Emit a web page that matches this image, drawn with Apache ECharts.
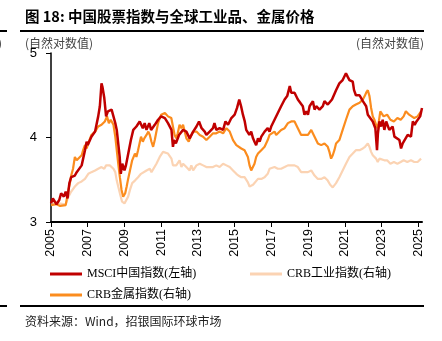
<!DOCTYPE html>
<html>
<head>
<meta charset="utf-8">
<script src="https://cdn.jsdelivr.net/npm/echarts@6/dist/echarts.min.js"></script>
<style>
html,body{margin:0;padding:0;background:#fff;}
#chart{width:442px;height:341px;}
</style>
</head>
<body>
<div id="chart"></div>
<script>
// ---- Data (natural log values) ----
const msciYears = [2005.0,2005.1,2005.3,2005.45,2005.55,2005.7,2005.8,2005.9,2006.0,2006.1,2006.3,2006.4,2006.5,2006.67,2006.85,2006.94,2007.0,2007.2,2007.4,2007.57,2007.66,2007.75,2007.8,2007.9,2007.95,2008.0,2008.1,2008.2,2008.3,2008.4,2008.5,2008.58,2008.66,2008.74,2008.8,2008.88,2009.0,2009.08,2009.17,2009.35,2009.48,2009.55,2009.65,2009.83,2010.0,2010.1,2010.2,2010.35,2010.45,2010.65,2010.83,2011.0,2011.2,2011.37,2011.56,2011.64,2011.7,2011.8,2011.97,2012.07,2012.19,2012.37,2012.55,2012.74,2012.92,2013.06,2013.2,2013.37,2013.46,2013.64,2013.82,2013.9,2014.0,2014.18,2014.37,2014.5,2014.64,2014.82,2015.0,2015.13,2015.25,2015.35,2015.45,2015.55,2015.63,2015.72,2015.8,2015.9,2016.0,2016.08,2016.17,2016.27,2016.36,2016.45,2016.63,2016.8,2016.9,2016.99,2017.17,2017.35,2017.53,2017.72,2017.86,2018.0,2018.08,2018.26,2018.44,2018.53,2018.71,2018.8,2018.9,2018.99,2019.08,2019.26,2019.35,2019.44,2019.62,2019.8,2019.89,2020.07,2020.16,2020.3,2020.52,2020.7,2020.88,2021.06,2021.15,2021.25,2021.35,2021.43,2021.5,2021.6,2021.8,2021.98,2022.16,2022.25,2022.35,2022.52,2022.66,2022.75,2022.8,2022.88,2022.97,2023.06,2023.15,2023.25,2023.42,2023.6,2023.7,2023.8,2023.97,2024.06,2024.15,2024.25,2024.42,2024.6,2024.7,2024.8,2024.9,2025.0,2025.1,2025.2];
const msciValues = [3.22,3.28,3.21,3.26,3.34,3.30,3.36,3.28,3.46,3.53,3.55,3.59,3.57,3.67,3.85,3.95,3.91,4.01,4.07,4.25,4.37,4.64,4.60,4.47,4.45,4.25,4.31,4.29,4.33,4.25,4.17,4.09,3.93,3.77,3.57,3.69,3.61,3.67,3.77,3.97,4.09,4.07,4.13,4.19,4.11,4.17,4.09,4.17,4.09,4.15,4.21,4.25,4.23,4.17,4.09,3.89,3.97,3.93,4.03,4.01,4.09,4.07,3.99,4.07,4.13,4.19,4.11,4.07,4.03,4.07,4.11,4.17,4.09,4.11,4.09,4.19,4.15,4.23,4.27,4.35,4.45,4.37,4.27,4.19,4.09,4.11,4.03,4.07,3.99,3.95,3.91,3.99,3.95,4.01,4.07,4.11,4.07,4.13,4.21,4.29,4.37,4.45,4.49,4.61,4.53,4.53,4.45,4.43,4.37,4.27,4.31,4.27,4.37,4.43,4.33,4.37,4.33,4.37,4.43,4.39,4.40,4.45,4.56,4.64,4.68,4.76,4.72,4.68,4.70,4.66,4.56,4.50,4.50,4.43,4.37,4.27,4.25,4.19,4.11,3.85,4.05,4.19,4.13,4.21,4.09,4.19,4.09,4.13,4.01,4.03,3.97,3.87,3.93,3.95,4.03,4.01,4.19,4.15,4.19,4.19,4.25,4.35];

const metalYears = [2005.0,2005.3,2005.5,2005.8,2005.9,2005.95,2006.03,2006.1,2006.2,2006.3,2006.4,2006.5,2006.67,2006.75,2006.85,2006.94,2007.03,2007.2,2007.4,2007.57,2007.75,2007.93,2008.05,2008.15,2008.25,2008.4,2008.5,2008.58,2008.66,2008.75,2008.84,2008.93,2009.04,2009.12,2009.2,2009.3,2009.42,2009.57,2009.65,2009.74,2009.9,2010.0,2010.08,2010.2,2010.3,2010.38,2010.47,2010.56,2010.65,2010.74,2010.83,2010.92,2011.0,2011.2,2011.37,2011.45,2011.55,2011.64,2011.73,2011.82,2011.9,2012.0,2012.1,2012.19,2012.28,2012.37,2012.5,2012.6,2012.74,2012.92,2013.1,2013.28,2013.46,2013.64,2013.82,2014.0,2014.18,2014.37,2014.55,2014.73,2014.91,2015.09,2015.18,2015.36,2015.54,2015.72,2015.81,2015.9,2016.0,2016.08,2016.17,2016.27,2016.45,2016.63,2016.8,2016.9,2016.99,2017.17,2017.26,2017.35,2017.53,2017.72,2017.9,2018.08,2018.26,2018.44,2018.62,2018.8,2018.99,2019.17,2019.35,2019.53,2019.71,2019.89,2020.07,2020.16,2020.25,2020.34,2020.43,2020.52,2020.7,2020.88,2021.06,2021.25,2021.43,2021.6,2021.8,2021.98,2022.08,2022.16,2022.25,2022.34,2022.43,2022.52,2022.61,2022.7,2022.79,2022.85,2022.93,2023.02,2023.11,2023.2,2023.3,2023.48,2023.67,2023.86,2024.04,2024.2,2024.32,2024.5,2024.6,2024.78,2024.96,2025.15];
const metalValues = [3.20,3.21,3.19,3.20,3.21,3.38,3.46,3.55,3.63,3.77,3.73,3.75,3.79,3.85,3.91,3.87,3.93,4.03,4.07,4.13,4.15,4.19,4.25,4.17,4.21,4.15,4.01,3.85,3.69,3.53,3.38,3.30,3.34,3.42,3.51,3.61,3.73,3.81,3.77,3.85,4.01,3.95,3.99,4.03,4.07,4.03,3.95,3.89,3.97,4.07,4.17,4.23,4.27,4.29,4.25,4.27,4.23,4.13,4.03,3.99,4.05,4.15,4.11,4.15,4.07,3.99,3.95,4.01,4.07,4.07,4.03,4.01,3.97,4.01,4.05,4.05,4.07,4.05,4.11,4.07,3.97,3.91,3.93,3.87,3.85,3.77,3.67,3.61,3.63,3.69,3.77,3.81,3.85,3.89,3.97,4.03,4.05,4.07,4.03,4.05,4.09,4.11,4.17,4.19,4.19,4.11,4.03,4.03,4.03,4.09,4.01,3.93,3.91,3.93,3.89,3.83,3.75,3.79,3.85,3.93,3.97,4.09,4.21,4.33,4.37,4.39,4.41,4.45,4.49,4.53,4.56,4.49,4.35,4.25,4.21,4.15,4.11,4.19,4.31,4.29,4.25,4.23,4.27,4.21,4.19,4.23,4.21,4.25,4.31,4.27,4.29,4.23,4.25,4.31];

const indYears = [2005.0,2005.4,2005.8,2005.95,2006.1,2006.3,2006.48,2006.67,2006.85,2007.03,2007.2,2007.4,2007.57,2007.75,2007.9,2008.0,2008.1,2008.2,2008.3,2008.4,2008.5,2008.58,2008.66,2008.75,2008.87,2009.0,2009.1,2009.2,2009.3,2009.42,2009.57,2009.74,2009.9,2010.0,2010.2,2010.38,2010.47,2010.56,2010.74,2010.92,2011.1,2011.2,2011.37,2011.56,2011.64,2011.82,2012.0,2012.1,2012.19,2012.37,2012.55,2012.64,2012.74,2012.92,2013.1,2013.28,2013.46,2013.82,2014.0,2014.18,2014.37,2014.55,2014.73,2014.91,2015.09,2015.2,2015.36,2015.54,2015.72,2015.81,2015.9,2016.0,2016.08,2016.27,2016.45,2016.63,2016.8,2016.9,2016.99,2017.17,2017.35,2017.53,2017.72,2017.9,2018.08,2018.26,2018.44,2018.62,2018.8,2018.99,2019.17,2019.35,2019.53,2019.71,2019.89,2020.07,2020.2,2020.34,2020.52,2020.7,2020.88,2021.06,2021.25,2021.43,2021.6,2021.8,2021.98,2022.1,2022.25,2022.34,2022.43,2022.52,2022.7,2022.79,2022.88,2022.97,2023.15,2023.3,2023.48,2023.67,2023.86,2024.04,2024.2,2024.4,2024.6,2024.78,2024.96,2025.15];
const indValues = [3.22,3.22,3.21,3.30,3.36,3.42,3.46,3.48,3.51,3.57,3.59,3.61,3.63,3.65,3.63,3.67,3.69,3.67,3.65,3.63,3.59,3.49,3.42,3.34,3.24,3.22,3.24,3.30,3.38,3.46,3.49,3.53,3.57,3.59,3.61,3.63,3.59,3.61,3.69,3.77,3.83,3.85,3.81,3.75,3.67,3.67,3.73,3.65,3.69,3.65,3.61,3.67,3.61,3.67,3.69,3.67,3.65,3.65,3.67,3.65,3.69,3.67,3.65,3.61,3.57,3.55,3.53,3.53,3.47,3.42,3.40,3.44,3.46,3.51,3.51,3.53,3.57,3.63,3.63,3.65,3.63,3.63,3.65,3.67,3.67,3.67,3.65,3.59,3.59,3.59,3.61,3.55,3.51,3.51,3.53,3.49,3.44,3.41,3.46,3.53,3.61,3.69,3.77,3.81,3.85,3.85,3.87,3.89,3.93,3.89,3.83,3.79,3.75,3.71,3.75,3.77,3.73,3.73,3.69,3.71,3.69,3.71,3.73,3.71,3.73,3.71,3.71,3.75];

const seriesNames = ['MSCI中国指数(左轴)', 'CRB工业指数(右轴)', 'CRB金属指数(右轴)'];
const startYear = 2005;
const yearTicks = [2005,2007,2009,2011,2013,2015,2017,2019,2021,2023,2025];
const leftTicks = [3,4,5];

const pairs = (xs, ys) => xs.map((x, i) => [x - startYear, ys[i]]);

const chart = echarts.init(document.getElementById('chart'), null, {renderer: 'canvas'});
const sans = '"Liberation Sans", Arial, sans-serif';
const serif = '"Liberation Serif", "Noto Sans CJK SC", serif';
const cjk = '"Noto Sans CJK SC", sans-serif';

const legendBase = {
  orient: 'horizontal', padding: 0, itemWidth: 32, itemHeight: 3, itemGap: 0,
  icon: 'rect', textStyle: {fontFamily: serif, fontSize: 12, color: '#000'}
};

chart.setOption({
  animation: false,
  backgroundColor: '#fff',
  grid: {left: 51, right: 20, top: 53, bottom: 119, containLabel: false},
  xAxis: {
    type: 'value', min: 0, max: 20.2, interval: 2,
    axisLine: {show: true, onZero: false, lineStyle: {color: '#000', width: 2}},
    axisTick: {show: true, length: 5, lineStyle: {color: '#000', width: 1}, customValues: yearTicks.map(y => y - startYear)},
    axisLabel: {rotate: 90, margin: 7, fontFamily: sans, fontSize: 12.5, color: '#000',
      customValues: yearTicks.map(y => y - startYear),
      formatter: v => String(Math.round(v + startYear))},
    splitLine: {show: false}
  },
  yAxis: [{
    type: 'value', min: 3, max: 5, interval: 1,
    axisLine: {show: true, lineStyle: {color: '#000', width: 1.5}},
    axisTick: {show: true, length: 5, lineStyle: {color: '#000'}},
    axisLabel: {margin: 14, fontFamily: sans, fontSize: 13, color: '#000'},
    splitLine: {show: false}
  }, {
    type: 'value', min: 3, max: 5, interval: 1, show: false,
    splitLine: {show: false}
  }],
  legend: [
    Object.assign({}, legendBase, {left: 50, top: 268, data: [seriesNames[0]]}),
    Object.assign({}, legendBase, {left: 250, top: 268, data: [seriesNames[1]]}),
    Object.assign({}, legendBase, {left: 50, top: 289, data: [seriesNames[2]]})
  ],
  series: [
    {name: seriesNames[1], type: 'line', yAxisIndex: 1, data: pairs(indYears, indValues), showSymbol: false, symbol: 'none',
      lineStyle: {color: '#FBD3B3', width: 2.2}, itemStyle: {color: '#FBD3B3'}, z: 2},
    {name: seriesNames[2], type: 'line', yAxisIndex: 1, data: pairs(metalYears, metalValues), showSymbol: false, symbol: 'none',
      lineStyle: {color: '#FB8C1E', width: 2.2}, itemStyle: {color: '#FB8C1E'}, z: 3},
    {name: seriesNames[0], type: 'line', yAxisIndex: 0, data: pairs(msciYears, msciValues), showSymbol: false, symbol: 'none',
      lineStyle: {color: '#C00000', width: 2.5}, itemStyle: {color: '#C00000'}, z: 4}
  ],
  graphic: [
    {type: 'text', left: 25, top: 9, style: {text: '图 18: 中国股票指数与全球工业品、金属价格', font: 'bold 14.5px ' + cjk, fill: '#000'}},
    {type: 'rect', shape: {x: 20, y: 30, width: 404, height: 2}, style: {fill: '#000'}},
    {type: 'rect', shape: {x: 0, y: 30, width: 7, height: 2}, style: {fill: '#000'}},
    {type: 'text', left: -2, top: 37, style: {text: ')', font: '12px ' + cjk, fill: '#444'}},
    {type: 'text', left: 25, top: 37, style: {text: '(自然对数值)', font: '12px ' + cjk, fill: '#444'}},
    {type: 'text', right: 18, top: 37, style: {text: '(自然对数值)', font: '12px ' + cjk, fill: '#444'}},
    {type: 'rect', shape: {x: 20, y: 305, width: 404, height: 2}, style: {fill: '#000'}},
    {type: 'rect', shape: {x: 0, y: 305, width: 7, height: 2}, style: {fill: '#000'}},
    {type: 'text', left: 25, top: 315, style: {text: '资料来源：Wind，招银国际环球市场', font: '12px ' + cjk, fill: '#222'}}
  ]
});
</script>
</body>
</html>
